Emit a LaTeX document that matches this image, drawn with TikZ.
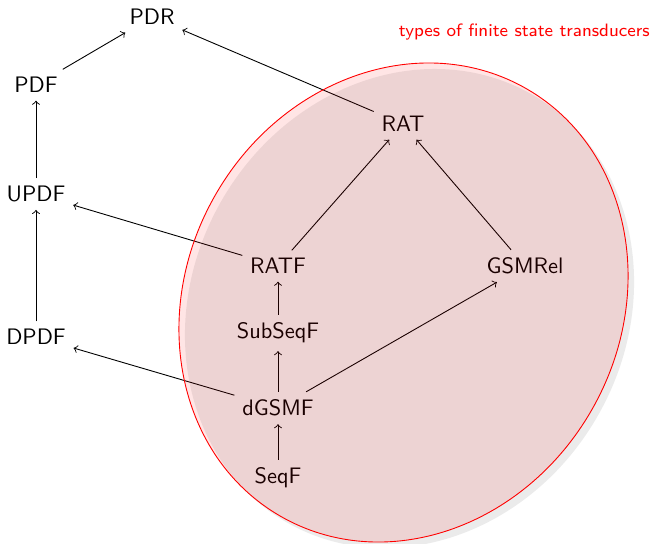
\documentclass[tikz,border=0pt]{standalone}
\begin{document}
\begin{tikzpicture}[x=0.4464pt,y=0.4464pt,
  cls/.style={font=\sffamily},
  edge/.style={->, black}]
\useasboundingbox (0,0) rectangle (652,543);
\node[cls] (PDR) at (152,526) {PDR};
\node[cls] (PDF) at (36,458) {PDF};
\node[cls] (UPDF) at (36,349) {UPDF};
\node[cls] (DPDF) at (36,206) {DPDF};
\node[cls] (RAT) at (403,419) {RAT};
\node[cls] (RATF) at (278,277) {RATF};
\node[cls] (GSMRel) at (525,277) {GSMRel};
\node[cls] (SubSeqF) at (278,210) {SubSeqF};
\node[cls] (dGSMF) at (278,135) {dGSMF};
\node[cls] (SeqF) at (278,65) {SeqF};
\node[anchor=east, text=red, font=\sffamily\footnotesize, inner sep=0pt] (lbl) at (650,511) {types of finite state transducers};
\draw[edge] (PDF) -- (PDR);
\draw[edge] (RAT) -- (PDR);
\draw[edge] (UPDF) -- (PDF);
\draw[edge] (DPDF) -- (UPDF);
\draw[edge] (RATF) -- (UPDF);
\draw[edge] (RATF) -- (RAT);
\draw[edge] (GSMRel) -- (RAT);
\draw[edge] (SubSeqF) -- (RATF);
\draw[edge] (dGSMF) -- (SubSeqF);
\draw[edge] (SeqF) -- (dGSMF);
\draw[edge] (dGSMF) -- (DPDF);
\draw[edge] (dGSMF) -- (GSMRel);
\fill[black, fill opacity=0.08] (409.5,234.5) ellipse [x radius=246.6, y radius=216.7, rotate=60];
\draw[red, fill=red, fill opacity=0.1] (403.5,240.5) ellipse [x radius=246.6, y radius=216.7, rotate=60];
\end{tikzpicture}
\end{document}
